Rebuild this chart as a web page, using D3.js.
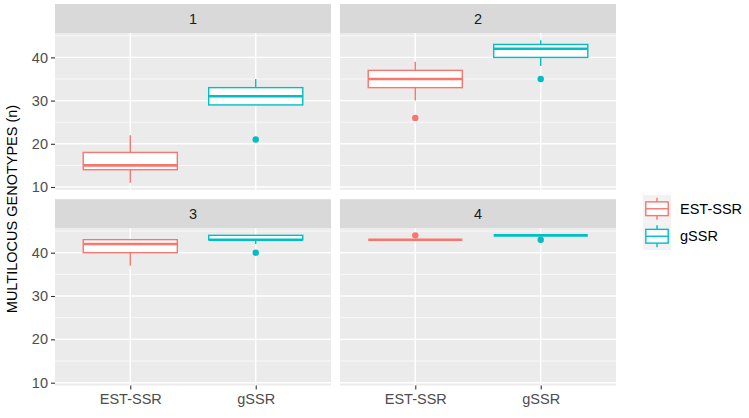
<!DOCTYPE html>
<html>
<head>
<meta charset="utf-8">
<script src="https://cdn.jsdelivr.net/npm/d3@7"></script>
<style>
  html, body { margin: 0; padding: 0; background: #ffffff; }
  svg { display: block; }
  text { font-family: "Liberation Sans", Arial, sans-serif; }
</style>
</head>
<body>
<svg id="chart" width="749" height="418"></svg>
<script>
// ---- data ----
const facets = ["1", "2", "3", "4"];
const groups = ["EST-SSR", "gSSR"];
const colors = ["#F8766D", "#00BFC4"];
// per facet: [EST-SSR, gSSR]
const lowerWhisker = [[11, 29], [30, 38], [37, 42], [43, 44]];
const q1Values     = [[14, 29], [33, 40], [40, 43], [43, 44]];
const medians      = [[15, 31], [35, 42], [42, 43], [43, 44]];
const q3Values     = [[18, 33], [37, 43], [43, 44], [43, 44]];
const upperWhisker = [[22, 35], [39, 44], [43, 44], [43, 44]];
const outliers     = [[[], [21]], [[26], [35]], [[], [40]], [[44], [43]]];
const yTicks = [10, 20, 30, 40];
const yMinorTicks = [15, 25, 35, 45];
const yTitle = "MULTILOCUS GENOTYPES (n)";

// ---- layout ----
const svg = d3.select("#chart");
const colX = [[55, 331], [340, 616]];
const rowPanel = [[33, 189.8], [228.2, 385.5]];
const stripH = 29;

// y domain from data with ggplot 5% expansion
const allVals = [];
facets.forEach((f, i) => groups.forEach((g, j) => {
  allVals.push(lowerWhisker[i][j], upperWhisker[i][j], ...outliers[i][j]);
}));
const [dMin, dMax] = d3.extent(allVals);
const pad = (dMax - dMin) * 0.05;
const yDomain = [dMin - pad, dMax + pad];

facets.forEach((f, i) => {
  const col = i % 2, row = Math.floor(i / 2);
  const [x0, x1] = colX[col];
  const [yTop, yBot] = rowPanel[row];
  const y = d3.scaleLinear().domain(yDomain).range([yBot, yTop]);
  const x = d3.scalePoint().domain(groups).range([x0, x1]).padding(0.6);
  const step = x.step();
  const g = svg.append("g");

  // strip
  g.append("rect").attr("x", x0).attr("y", yTop - stripH).attr("width", x1 - x0).attr("height", stripH)
    .attr("fill", "#D9D9D9");
  g.append("text").attr("x", (x0 + x1) / 2).attr("y", yTop - stripH / 2 + 5)
    .attr("text-anchor", "middle").attr("font-size", 14.5).attr("fill", "#1A1A1A").text(f);

  // panel background
  g.append("rect").attr("x", x0).attr("y", yTop).attr("width", x1 - x0).attr("height", yBot - yTop)
    .attr("fill", "#EBEBEB");

  // minor grid
  yMinorTicks.filter(v => v >= yDomain[0] && v <= yDomain[1]).forEach(v => {
    g.append("line").attr("x1", x0).attr("x2", x1).attr("y1", y(v)).attr("y2", y(v))
      .attr("stroke", "#ffffff").attr("stroke-width", 0.7);
  });
  // major grid
  yTicks.forEach(v => {
    g.append("line").attr("x1", x0).attr("x2", x1).attr("y1", y(v)).attr("y2", y(v))
      .attr("stroke", "#ffffff").attr("stroke-width", 1.4);
  });
  groups.forEach(gr => {
    g.append("line").attr("x1", x(gr)).attr("x2", x(gr)).attr("y1", yTop).attr("y2", yBot)
      .attr("stroke", "#ffffff").attr("stroke-width", 1.4);
  });

  // boxes
  groups.forEach((gr, j) => {
    const cx = x(gr), bw = step * 0.75, c = colors[j];
    g.append("line").attr("x1", cx).attr("x2", cx)
      .attr("y1", y(upperWhisker[i][j])).attr("y2", y(q3Values[i][j]))
      .attr("stroke", c).attr("stroke-width", 1.4);
    g.append("line").attr("x1", cx).attr("x2", cx)
      .attr("y1", y(q1Values[i][j])).attr("y2", y(lowerWhisker[i][j]))
      .attr("stroke", c).attr("stroke-width", 1.4);
    g.append("rect").attr("x", cx - bw / 2).attr("width", bw)
      .attr("y", y(q3Values[i][j])).attr("height", Math.max(0, y(q1Values[i][j]) - y(q3Values[i][j])))
      .attr("fill", "#ffffff").attr("stroke", c).attr("stroke-width", 1.4);
    g.append("line").attr("x1", cx - bw / 2).attr("x2", cx + bw / 2)
      .attr("y1", y(medians[i][j])).attr("y2", y(medians[i][j]))
      .attr("stroke", c).attr("stroke-width", 2.6);
    outliers[i][j].forEach(o => {
      g.append("circle").attr("cx", cx).attr("cy", y(o)).attr("r", 3.2).attr("fill", c);
    });
  });

  // y axis on left column
  if (col === 0) {
    const ax = g.append("g").attr("transform", `translate(${x0},0)`)
      .call(d3.axisLeft(y).tickValues(yTicks).tickSize(4).tickPadding(3).tickFormat(d3.format("d")));
    ax.select(".domain").remove();
    ax.selectAll(".tick line").attr("stroke", "#333333").attr("stroke-width", 1.1);
    ax.selectAll(".tick text").attr("font-size", 14.5).attr("fill", "#4D4D4D")
      .attr("font-family", "'Liberation Sans', Arial, sans-serif");
  }
  // x axis on bottom row
  if (row === 1) {
    const ax = g.append("g").attr("transform", `translate(0,${yBot})`)
      .call(d3.axisBottom(x).tickSize(4).tickPadding(4));
    ax.select(".domain").remove();
    ax.selectAll(".tick line").attr("stroke", "#333333").attr("stroke-width", 1.1);
    ax.selectAll(".tick text").attr("font-size", 14.5).attr("fill", "#4D4D4D")
      .attr("font-family", "'Liberation Sans', Arial, sans-serif");
  }
});

// y axis title
svg.append("text").attr("transform", "translate(17,209) rotate(-90)")
  .attr("text-anchor", "middle").attr("font-size", 14.5).attr("fill", "#000000").text(yTitle);

// legend
const keyX = 643, keyW = 28, keyH = 27.5, legTop = 195;
groups.forEach((gr, j) => {
  const ky = legTop + j * keyH;
  const c = colors[j];
  const lg = svg.append("g");
  lg.append("rect").attr("x", keyX).attr("y", ky).attr("width", keyW).attr("height", keyH).attr("fill", "#F2F2F2");
  const cx = keyX + keyW / 2;
  lg.append("line").attr("x1", cx).attr("x2", cx).attr("y1", ky + keyH * 0.1).attr("y2", ky + keyH * 0.25)
    .attr("stroke", c).attr("stroke-width", 1.4);
  lg.append("line").attr("x1", cx).attr("x2", cx).attr("y1", ky + keyH * 0.75).attr("y2", ky + keyH * 0.9)
    .attr("stroke", c).attr("stroke-width", 1.4);
  lg.append("rect").attr("x", keyX + keyW * 0.1).attr("y", ky + keyH * 0.25)
    .attr("width", keyW * 0.8).attr("height", keyH * 0.5)
    .attr("fill", "#ffffff").attr("stroke", c).attr("stroke-width", 1.4);
  lg.append("line").attr("x1", keyX + keyW * 0.1).attr("x2", keyX + keyW * 0.9)
    .attr("y1", ky + keyH / 2).attr("y2", ky + keyH / 2).attr("stroke", c).attr("stroke-width", 1.4);
  lg.append("text").attr("x", 680).attr("y", ky + keyH / 2 + 5.2)
    .attr("font-size", 14.5).attr("fill", "#000000").text(gr);
});
</script>
</body>
</html>
